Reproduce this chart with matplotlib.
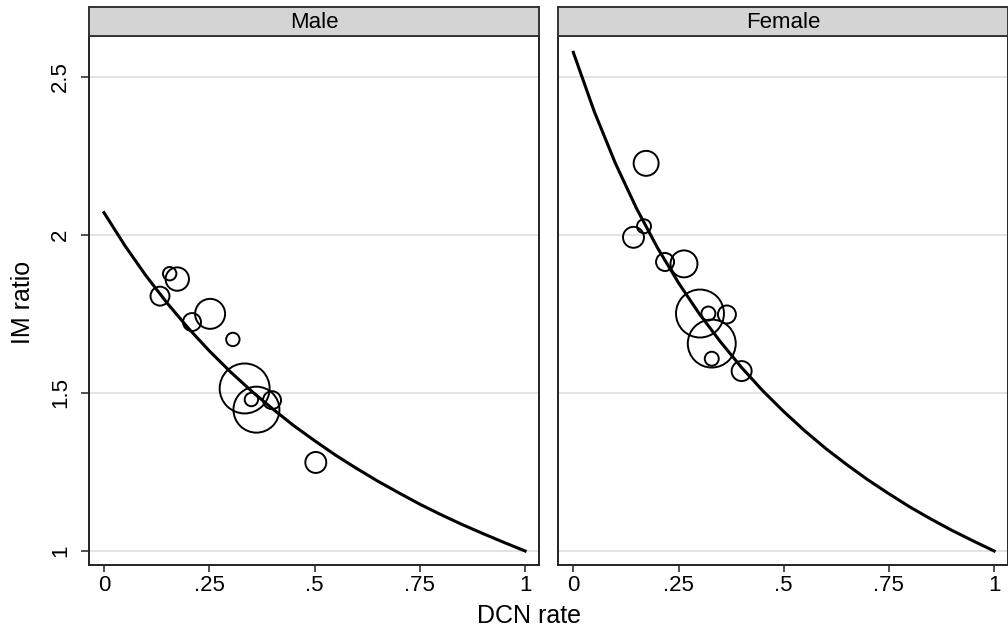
import numpy as np
import matplotlib.pyplot as plt

plt.rcParams['font.family'] = ['Liberation Sans', 'DejaVu Sans']

# bubbles: DCN rate, IM ratio, relative weight
male_dcn = [0.133, 0.156, 0.174, 0.252, 0.209, 0.306, 0.334, 0.350, 0.362, 0.399, 0.503]
male_im = [1.806, 1.877, 1.860, 1.750, 1.724, 1.669, 1.514, 1.479, 1.447, 1.477, 1.280]
male_w = [90, 45, 137, 225, 81, 45, 625, 45, 529, 81, 110]

female_dcn = [0.173, 0.168, 0.143, 0.218, 0.263, 0.301, 0.321, 0.365, 0.329, 0.329, 0.400]
female_im = [2.226, 2.027, 1.992, 1.914, 1.908, 1.751, 1.751, 1.748, 1.656, 1.608, 1.569]
female_w = [156, 49, 110, 81, 182, 576, 49, 81, 576, 49, 100]

# fitted curves, read at steps of 0.05
curve_x = [0.00, 0.05, 0.10, 0.15, 0.20, 0.25, 0.30, 0.35, 0.40, 0.45, 0.50,
           0.55, 0.60, 0.65, 0.70, 0.75, 0.80, 0.85, 0.90, 0.95, 1.00]
male_fit = [2.070, 1.965, 1.870, 1.784, 1.705, 1.633, 1.567, 1.506, 1.450, 1.397, 1.349,
            1.303, 1.261, 1.221, 1.184, 1.148, 1.115, 1.084, 1.055, 1.027, 1.000]
female_fit = [2.577, 2.389, 2.226, 2.084, 1.959, 1.848, 1.749, 1.661, 1.580, 1.507, 1.441,
              1.380, 1.324, 1.273, 1.225, 1.181, 1.139, 1.101, 1.065, 1.032, 1.000]

x_ticks = [0, 0.25, 0.5, 0.75, 1]
x_labels = ['0', '.25', '.5', '.75', '1']
y_ticks = [1, 1.5, 2, 2.5]
y_labels = ['1', '1.5', '2', '2.5']

W, H = 1008, 636
fig = plt.figure(figsize=(W / 100, H / 100), dpi=100)

panels = [
    ('Male', 89, 539, (-0.0356, 1.033), male_dcn, male_im, male_w, male_fit),
    ('Female', 558, 1008, (-0.0364, 1.033), female_dcn, female_im, female_w, female_fit),
]
top, bottom, strip_top = 36, 565, 7

for i, (name, x0, x1, xlim, dx, dy, dw, fit) in enumerate(panels):
    ax = fig.add_axes([x0 / W, 1 - bottom / H, (x1 - x0) / W, (bottom - top) / H])
    ax.set_xlim(*xlim)
    ax.set_ylim(0.9557, 2.6287)
    for y in y_ticks:
        ax.axhline(y, color='#e3e3e3', lw=1.4, zorder=0)
    sizes = [w * 2.07 for w in dw]
    ax.scatter(dx, dy, s=sizes, facecolors='none', edgecolors='black', linewidths=1.4, zorder=2)
    ax.plot(curve_x, fit, color='black', lw=2.2, zorder=3)
    for s in ax.spines.values():
        s.set_color('#222222')
        s.set_linewidth(1.4)
    ax.set_xticks(x_ticks)
    ax.set_xticklabels(x_labels, fontsize=16)
    ax.tick_params(axis='x', length=5, width=1.1, pad=2, color='#222222')
    if i == 0:
        ax.set_yticks(y_ticks)
        ax.set_yticklabels(y_labels, fontsize=16, rotation=90, va='center')
        ax.tick_params(axis='y', length=6, width=1.1, pad=7, color='#222222')
    else:
        ax.set_yticks([])

    # strip with the panel title
    sax = fig.add_axes([x0 / W, 1 - top / H, (x1 - x0) / W, (top - strip_top) / H])
    sax.set_facecolor('#d4d4d4')
    sax.set_xticks([])
    sax.set_yticks([])
    for s in sax.spines.values():
        s.set_color('#333333')
        s.set_linewidth(1.4)
    sax.text(0.5, 0.47, name, ha='center', va='center', fontsize=16, transform=sax.transAxes)

fig.text(23 / W, 1 - 302 / H, 'IM ratio', rotation=90, ha='center', va='center', fontsize=18)
fig.text(529 / W, 1 - 616 / H, 'DCN rate', ha='center', va='center', fontsize=18)

fig.savefig('out.png', dpi=100)
